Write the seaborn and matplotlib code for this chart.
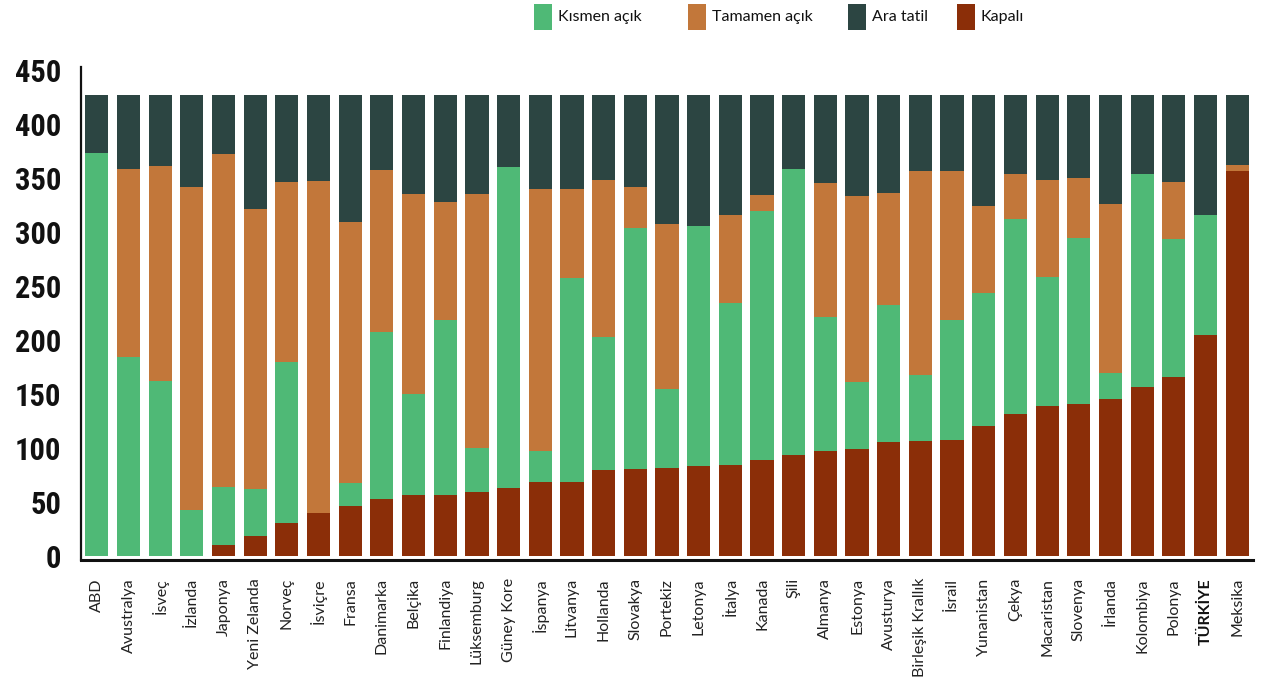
import matplotlib
matplotlib.use("Agg")
import matplotlib.pyplot as plt
from matplotlib import font_manager as fm
from matplotlib.patches import Rectangle
import numpy as np
import pandas as pd
import seaborn as sns

countries = [
    "ABD", "Avustralya", "İsveç", "İzlanda", "Japonya", "Yeni Zelanda", "Norveç",
    "İsviçre", "Fransa", "Danimarka", "Belçika", "Finlandiya", "Lüksemburg",
    "Güney Kore", "İspanya", "Litvanya", "Hollanda", "Slovakya", "Portekiz",
    "Letonya", "İtalya", "Kanada", "Şili", "Almanya", "Estonya", "Avusturya",
    "Birleşik Krallık", "İsrail", "Yunanistan", "Çekya", "Macaristan", "Slovenya",
    "İrlanda", "Kolombiya", "Polonya", "TÜRKİYE", "Meksika",
]

# school days by status
kapali = [0, 0, 0, 0, 10, 18, 30, 40, 46, 53, 56, 56, 59, 63, 68, 68, 79, 80, 81,
          83, 84, 89, 93, 97, 99, 105, 106, 107, 120, 131, 139, 141, 145, 156, 166,
          204, 356]
kismen_acik = [373, 184, 162, 42, 54, 44, 149, 0, 21, 154, 94, 162, 41, 297, 29, 189,
               124, 224, 73, 222, 150, 230, 265, 124, 62, 127, 61, 111, 123, 181, 119,
               153, 24, 198, 127, 112, 0]
tamamen_acik = [0, 174, 199, 300, 308, 259, 167, 307, 242, 150, 185, 110, 235, 0, 243,
                83, 145, 38, 153, 0, 82, 15, 0, 124, 172, 104, 189, 138, 81, 42, 90,
                56, 157, 0, 53, 0, 6]
ara_tatil = [54, 69, 66, 85, 55, 106, 81, 80, 118, 70, 92, 99, 92, 67, 87, 87, 79, 85,
             120, 122, 111, 93, 69, 82, 94, 91, 71, 71, 103, 73, 79, 77, 101, 73, 81,
             111, 65]

series_names = ["Kısmen açık", "Tamamen açık", "Ara tatil", "Kapalı"]
colors = {
    "Kısmen açık": "#4FB976",
    "Tamamen açık": "#C2773A",
    "Ara tatil": "#2C4542",
    "Kapalı": "#8B2E08",
}

df = pd.DataFrame({
    "Ülke": countries,
    "Kapalı": kapali,
    "Kısmen açık": kismen_acik,
    "Tamamen açık": tamamen_acik,
    "Ara tatil": ara_tatil,
})

sns.set_theme(style="white")
plt.rcParams["font.family"] = ["Lato", "DejaVu Sans"]

# pick a narrow face for the value axis if one is installed
names = {f.name for f in fm.fontManager.ttflist}
narrow_props = dict(fontfamily=["Liberation Sans", "DejaVu Sans"],
                    fontweight="bold", fontsize=18)
if "Liberation Sans Narrow" in names:
    narrow_props = dict(fontfamily=["Liberation Sans Narrow"], fontweight="bold",
                        fontsize=23)
elif "Roboto Condensed" in names:
    narrow_props = dict(fontfamily=["Roboto Condensed"], fontweight="bold",
                        fontsize=22)

fig = plt.figure(figsize=(12.78, 6.83), dpi=100)
ax = fig.add_axes([0.0634, 0.18, 0.9170, 0.7224])

# stacked bars, bottom to top
stack_order = ["Kapalı", "Kısmen açık", "Tamamen açık", "Ara tatil"]
bottom = np.zeros(len(df))
for name in stack_order:
    sns.barplot(data=df, x="Ülke", y=name, color=colors[name], bottom=bottom,
                width=0.73, ax=ax, saturation=1, linewidth=0)
    bottom = bottom + df[name].to_numpy()

ax.set_xlim(-0.5, len(countries) - 0.5)
ax.set_ylim(-4, 453)
ax.set_yticks(np.arange(0, 451, 50))
ax.set_xlabel("")
ax.set_ylabel("")

for side in ["top", "right"]:
    ax.spines[side].set_visible(False)
ax.spines["left"].set_color("#111111")
ax.spines["left"].set_linewidth(1.6)
ax.spines["bottom"].set_color("#111111")
ax.spines["bottom"].set_linewidth(2.2)

ax.tick_params(axis="y", length=0, pad=14)
ax.tick_params(axis="x", length=0, pad=13)
for lbl in ax.get_yticklabels():
    lbl.set(color="#111111", **narrow_props)

ax.set_xticks(range(len(countries)))
ax.set_xticklabels(countries, rotation=90, fontsize=11.5, color="#222222",
                   va="top", ha="center")
for lbl in ax.get_xticklabels():
    if lbl.get_text() == "TÜRKİYE":
        lbl.set_fontweight("bold")
        lbl.set_color("#111111")

# legend row across the top
W, H = fig.get_size_inches() * fig.dpi
legend_x = [534, 688, 848, 957]
for x0, name in zip(legend_x, series_names):
    fig.patches.append(Rectangle((x0 / W, 1 - 30 / H), 18 / W, 26 / H,
                                 transform=fig.transFigure, color=colors[name],
                                 linewidth=0))
    fig.text((x0 + 24) / W, 1 - 17 / H, name, fontsize=11.5, color="#111111",
             va="center", ha="left")

fig.savefig("out.png", dpi=100, facecolor="white")
